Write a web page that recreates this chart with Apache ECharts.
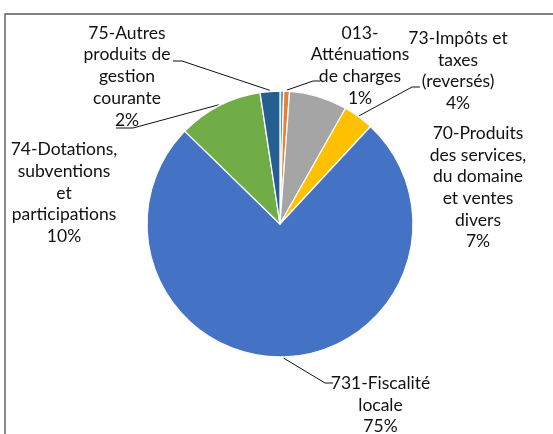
<!DOCTYPE html>
<html>
<head>
<meta charset="utf-8">
<script src="https://cdn.jsdelivr.net/npm/echarts@6/dist/echarts.min.js"></script>
<style>
  html, body { margin: 0; padding: 0; background: #fff; }
  #chart { width: 553px; height: 434px; }
</style>
</head>
<body>
<div id="chart"></div>
<script>
// slices in clockwise order from 12 o'clock (the first one is a tiny unlabeled sliver)
const categories = [
  '',
  '013-Atténuations de charges',
  '70-Produits des services, du domaine et ventes divers',
  '73-Impôts et taxes (reversés)',
  '731-Fiscalité locale',
  '74-Dotations, subventions et participations',
  '75-Autres produits de gestion courante'
];
const shares = [0.45, 0.7, 7.05, 3.7, 75.4, 10.3, 2.4];
// label text as wrapped in the picture
const labelText = [
  '',
  '013-\nAtténuations\nde charges',
  '70-Produits\ndes services,\ndu domaine\net ventes\ndivers',
  '73-Impôts et\ntaxes\n(reversés)',
  '731-Fiscalité\nlocale',
  '74-Dotations,\nsubventions\net\nparticipations',
  '75-Autres\nproduits de\ngestion\ncourante'
];

const colors = ['#5B9BD5', '#ED7D31', '#A5A5A5', '#FFC000', '#4472C4', '#70AD47', '#255E91'];
const cx = 280, cy = 224, R = 133;

// where each label sits, and the elbow/end of its leader line
const spots = {
  1: { x: 360, y: 65.5, line: [[313, 81], [320, 81]] },
  2: { x: 478, y: 187.5 },
  3: { x: 458, y: 71, line: [[412, 87], [420, 87]] },
  4: { x: 380.5, y: 405, line: [[325, 383], [333, 383]] },
  5: { x: 64, y: 193, line: [[133, 128], [116, 128]] },
  6: { x: 127, y: 76.5, line: [[182, 61], [173, 61]] }
};

const total = shares.reduce((a, b) => a + b, 0);

// point on the rim at the middle of slice i
function arcPoint(i) {
  let before = 0;
  for (let k = 0; k < i; k++) before += shares[k];
  const a = (before + shares[i] / 2) / total * Math.PI * 2;
  return [cx + (R + 1) * Math.sin(a), cy - (R + 1) * Math.cos(a)];
}

const pieData = shares.map((v, i) => ({
  name: categories[i],
  value: v,
  itemStyle: { color: colors[i] },
  label: { show: i !== 0 },
  labelLine: { show: !!(spots[i] && spots[i].line) }
}));

const chart = echarts.init(document.getElementById('chart'));
chart.setOption({
  animation: false,
  graphic: [{
    type: 'rect',
    shape: { x: 5, y: 14, width: 600, height: 500 },
    style: { fill: 'none', stroke: '#5a5a5a', lineWidth: 1.4 },
    silent: true
  }],
  series: [{
    type: 'pie',
    center: [cx, cy],
    radius: R,
    startAngle: 90,
    clockwise: true,
    avoidLabelOverlap: false,
    itemStyle: { borderColor: '#fff', borderWidth: 1.3 },
    label: {
      position: 'outside',
      fontFamily: 'Lato',
      fontSize: 17.5,
      lineHeight: 21.7,
      color: '#111',
      align: 'center',
      formatter: p => labelText[p.dataIndex] + '\n' + Math.round(p.value / total * 100) + '%'
    },
    labelLine: { lineStyle: { color: '#111', width: 1 } },
    labelLayout: function (p) {
      const s = spots[p.dataIndex];
      if (!s) return {};
      const out = { x: s.x, y: s.y, align: 'center', verticalAlign: 'middle' };
      if (s.line) out.labelLinePoints = [arcPoint(p.dataIndex)].concat(s.line);
      return out;
    },
    data: pieData
  }]
});
</script>
</body>
</html>
